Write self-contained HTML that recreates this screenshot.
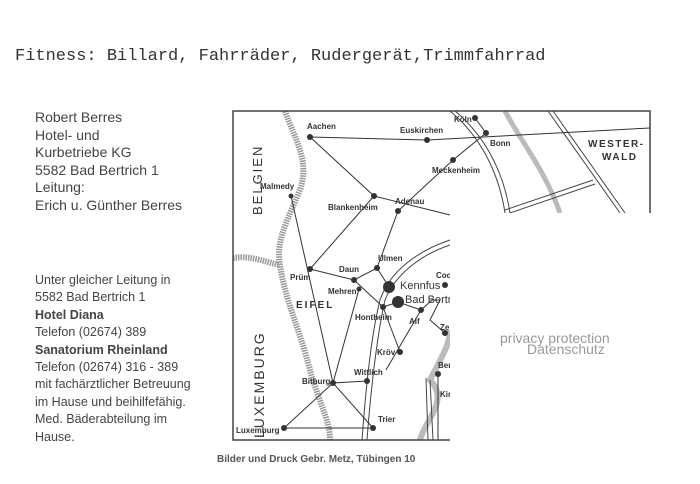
<!DOCTYPE html>
<html><head><meta charset="utf-8"><style>
body{margin:0;background:#fff;width:700px;height:484px;overflow:hidden;position:relative;font-family:"Liberation Sans",sans-serif;color:#333}
.t{position:absolute;white-space:nowrap}
</style></head><body>
<div class="t" style="left:15px;top:47px;font-family:'Liberation Mono',monospace;font-size:17px;color:#333">Fitness: Billard, Fahrräder, Rudergerät,Trimmfahrrad</div>
<div class="t" style="left:35px;top:109px;font-size:14px;line-height:17.6px;color:#444">Robert Berres<br>Hotel- und<br>Kurbetriebe KG<br>5582 Bad Bertrich 1<br>Leitung:<br>Erich u. Günther Berres</div>
<div class="t" style="left:35px;top:272px;font-size:12.5px;line-height:17.4px;color:#444">Unter gleicher Leitung in<br>5582 Bad Bertrich 1<br><b>Hotel Diana</b><br>Telefon (02674) 389<br><b>Sanatorium Rheinland</b><br>Telefon (02674) 316 - 389<br>mit fachärztlicher Betreuung<br>im Hause und beihilfefähig.<br>Med. Bäderabteilung im<br>Hause.</div>
<svg width="700" height="484" style="position:absolute;left:0;top:0" font-family="Liberation Sans" font-size="8" font-weight="bold" fill="#333">
<g fill="none" stroke="#999" stroke-width="6" stroke-dasharray="1.5 1">
<path d="M285,111 C295,140 310,160 300,190 C290,215 275,240 280,265 C285,300 300,330 310,370 C318,400 330,420 330,440"/>
<path d="M233,258 C250,255 265,262 280,265"/>
</g>
<path d="M505,111 C520,140 545,170 560,213" stroke="#bbb" stroke-width="5" fill="none"/>
<path d="M420,440 C425,420 450,400 430,380 C440,360 450,345 450,330" stroke="#bbb" stroke-width="6" fill="none"/>
<g fill="none" stroke="#444" stroke-width="1">
<path d="M450,240 C420,250 390,270 380,300 C370,340 365,400 362,440"/><path d="M450,245 C420,255 395,275 385,300 C376,340 370,400 367,440"/>
<path d="M450,111 C485,140 500,180 505,213"/><path d="M455,111 C490,140 505,180 510,213"/>
<path d="M548,111 L620,213"/><path d="M553,111 L625,213"/>
<path d="M505,210 L593,180"/><path d="M507,214 L595,184"/>
<path d="M430,380 L433,440"/><path d="M426,378 L428,440"/>
</g>
<g stroke="#333" stroke-width="1" fill="none">
<path d="M310,137 L427,140 L650,128"/><path d="M310,137 L374,196 L450,215"/>
<path d="M475,118 L486,133 L453,160 L398,211 L377,268"/>
<path d="M291,196 L333,383 L284,428 L373,428 L333,383 L367,381"/>
<path d="M310,269 L374,196"/><path d="M310,269 L354,280 L377,268 L389,287"/>
<path d="M354,280 L383,307 L398,302 L421,310"/><path d="M359,289 L333,383"/>
<path d="M383,307 L400,352"/><path d="M421,310 L386,370"/><path d="M421,310 L432,300 L440,300 L430,320 L445,333"/>
<path d="M438,374 L438,440"/>
</g>
<g fill="#333">
<circle cx="310" cy="137" r="3"/><circle cx="427" cy="140" r="3"/><circle cx="475" cy="118" r="3"/><circle cx="486" cy="133" r="3"/><circle cx="453" cy="160" r="3"/><circle cx="291" cy="196" r="2.5"/><circle cx="374" cy="196" r="3"/><circle cx="398" cy="211" r="3"/><circle cx="377" cy="268" r="3"/><circle cx="310" cy="269" r="3"/><circle cx="354" cy="280" r="3"/><circle cx="359" cy="289" r="2.5"/><circle cx="389" cy="287" r="6"/><circle cx="398" cy="302" r="6"/><circle cx="383" cy="307" r="3"/><circle cx="421" cy="310" r="3"/><circle cx="445" cy="333" r="3"/><circle cx="400" cy="352" r="3"/><circle cx="367" cy="381" r="3"/><circle cx="333" cy="383" r="3"/><circle cx="373" cy="428" r="3"/><circle cx="284" cy="428" r="3"/><circle cx="438" cy="374" r="3"/><circle cx="445" cy="285" r="3"/>
</g>
<text x="307" y="129">Aachen</text><text x="400" y="133">Euskirchen</text><text x="454" y="122">Köln</text><text x="490" y="146">Bonn</text><text x="432" y="173">Meckenheim</text>
<text x="260" y="189">Malmedy</text><text x="328" y="210">Blankenheim</text><text x="395" y="204">Adenau</text><text x="378" y="261">Ulmen</text><text x="290" y="280">Prüm</text><text x="339" y="272">Daun</text><text x="328" y="294">Mehren</text><text x="355" y="320">Hontheim</text><text x="409" y="324">Alf</text><text x="377" y="355">Kröv</text><text x="354" y="375">Wittlich</text><text x="302" y="384">Bitburg</text><text x="378" y="422">Trier</text><text x="236" y="433">Luxemburg</text><text x="436" y="278">Cod</text><text x="440" y="330">Ze</text><text x="438" y="368">Ber</text><text x="440" y="397">Kir</text>
<text x="400" y="289" font-size="11" font-weight="normal">Kennfus</text><text x="405" y="303" font-size="11" font-weight="normal">Bad Bertri</text>
<text x="296" y="308" font-size="10" letter-spacing="2">EIFEL</text>
<text x="588" y="147" font-size="10" letter-spacing="1.5">WESTER-</text><text x="602" y="160" font-size="10" letter-spacing="1.5">WALD</text>
<text transform="translate(262,215) rotate(-90)" font-size="13" font-weight="normal" letter-spacing="2">BELGIEN</text>
<text transform="translate(264,438) rotate(-90)" font-size="14" font-weight="normal" letter-spacing="2">LUXEMBURG</text>
<rect x="450" y="213" width="250" height="271" fill="#fff"/>
<path d="M450,440 H233 V111 H650 V213" fill="none" stroke="#444" stroke-width="1.5"/>
<text x="500" y="343" font-size="14" font-weight="normal" fill="#999">privacy protection</text>
<text x="527" y="354" font-size="14" font-weight="normal" fill="#999">Datenschutz</text>
</svg>
<div class="t" style="left:217px;top:454px;font-size:10px;font-weight:bold;color:#555">Bilder und Druck Gebr. Metz, Tübingen 10</div>
</body></html>
